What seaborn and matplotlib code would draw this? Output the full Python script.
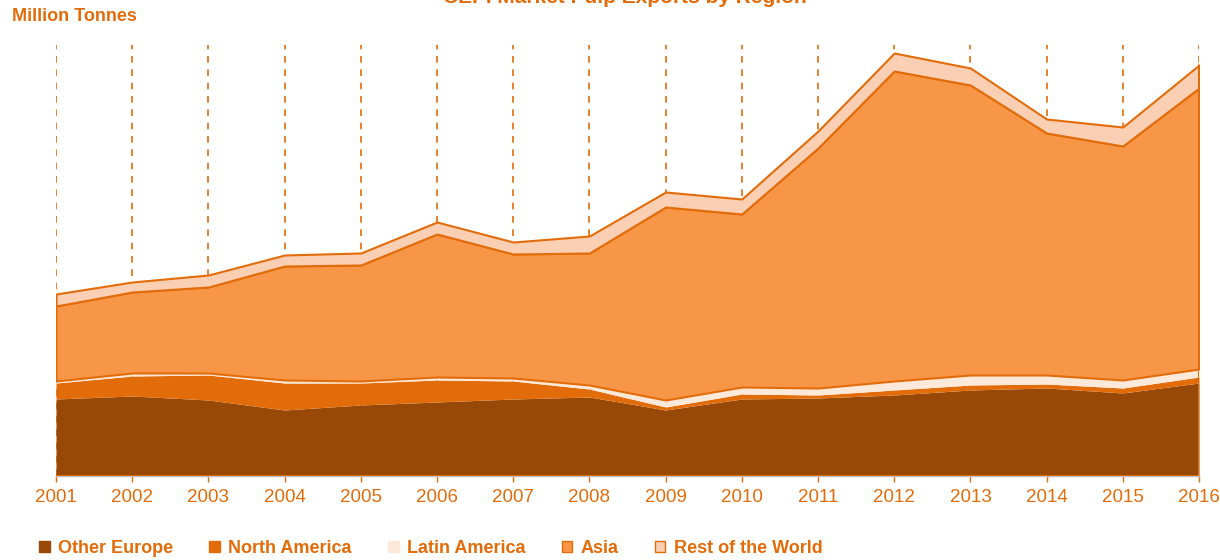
import matplotlib
matplotlib.use("Agg")
import matplotlib.pyplot as plt
import seaborn as sns
import numpy as np
from matplotlib.patches import Patch

# data (million tonnes)
years = list(range(2001, 2017))
other_europe = [0.77, 0.80, 0.76, 0.66, 0.71, 0.74, 0.77, 0.79, 0.66, 0.77, 0.78, 0.81, 0.86, 0.88, 0.83, 0.93]
north_america = [0.16, 0.20, 0.25, 0.27, 0.22, 0.22, 0.18, 0.08, 0.03, 0.05, 0.03, 0.05, 0.05, 0.04, 0.05, 0.06]
latin_america = [0.02, 0.03, 0.02, 0.03, 0.02, 0.03, 0.03, 0.04, 0.07, 0.07, 0.07, 0.09, 0.10, 0.09, 0.08, 0.08]
asia = [0.75, 0.81, 0.86, 1.14, 1.16, 1.43, 1.24, 1.32, 1.93, 1.73, 2.40, 3.10, 2.90, 2.42, 2.34, 2.81]
rest_of_world = [0.12, 0.10, 0.12, 0.11, 0.12, 0.12, 0.12, 0.17, 0.15, 0.15, 0.17, 0.18, 0.17, 0.14, 0.19, 0.23]
labels = ["Other Europe", "North America", "Latin America", "Asia", "Rest of the World"]

orange = "#E36C0A"
colors = ["#984807", "#E36C0A", "#FDE9D9", "#F79646", "#FBCFB4"]
edges = ["none", "none", "none", orange, orange]

sns.set_style("white")
plt.rcParams["font.family"] = ["Liberation Sans", "DejaVu Sans"]

fig = plt.figure(figsize=(12.2, 5.6), dpi=100)
ax = fig.add_axes([56 / 1220, 1 - 476 / 560, (1199 - 56) / 1220, (476 - 45) / 560])

ymax = 4.31
ax.vlines(years, 0, ymax, colors=orange, linestyles=(0, (4, 4)), linewidth=1.2, zorder=0)

series = [other_europe, north_america, latin_america, asia, rest_of_world]
polys = ax.stackplot(years, *series, colors=colors, zorder=2)
for p, ec in zip(polys, edges):
    if ec != "none":
        p.set_edgecolor(ec)
        p.set_linewidth(1.5)
    else:
        p.set_linewidth(0)

# thin orange line along the base and right side
ax.plot([years[0], years[-1]], [0, 0], color=orange, lw=2, zorder=3)
tot = np.sum(series, axis=0)
ax.plot([years[-1], years[-1]], [0, tot[-1]], color=orange, lw=1.5, zorder=3)

ax.set_xlim(years[0], years[-1])
ax.set_ylim(0, ymax)
ax.set_yticks([])
ax.set_xticks(years)
ax.set_xticklabels([str(y) for y in years], color=orange, fontsize=13.5)
ax.tick_params(axis="x", length=4, width=1, color=orange, pad=5, bottom=True)
sns.despine(ax=ax, left=True, top=True, right=True)
ax.spines["bottom"].set_color("#BFBFBF")
ax.spines["bottom"].set_linewidth(1)
ax.set_facecolor("white")

fig.text(12 / 1220, 1 - 21 / 560, "Million Tonnes", color=orange, fontsize=13,
         fontweight="bold", va="baseline", ha="left")
fig.text(625 / 1220, 1 - 3 / 560, "CEPI Market Pulp Exports by Region", color=orange,
         fontsize=15, fontweight="bold", va="baseline", ha="center")

handles = [Patch(facecolor=c, edgecolor=(ec if ec != "none" else c), linewidth=1)
           for c, ec in zip(colors, edges)]
leg = fig.legend(handles, labels, loc="lower left", bbox_to_anchor=(23 / 1220, -13 / 560),
                 ncol=5, frameon=False, handlelength=0.6, handleheight=0.55,
                 handletextpad=0.45, columnspacing=2.0,
                 prop={"family": ["Liberation Sans"], "weight": "bold", "size": 13})
for t in leg.get_texts():
    t.set_color(orange)

fig.savefig("out.png", dpi=100, facecolor="white")
